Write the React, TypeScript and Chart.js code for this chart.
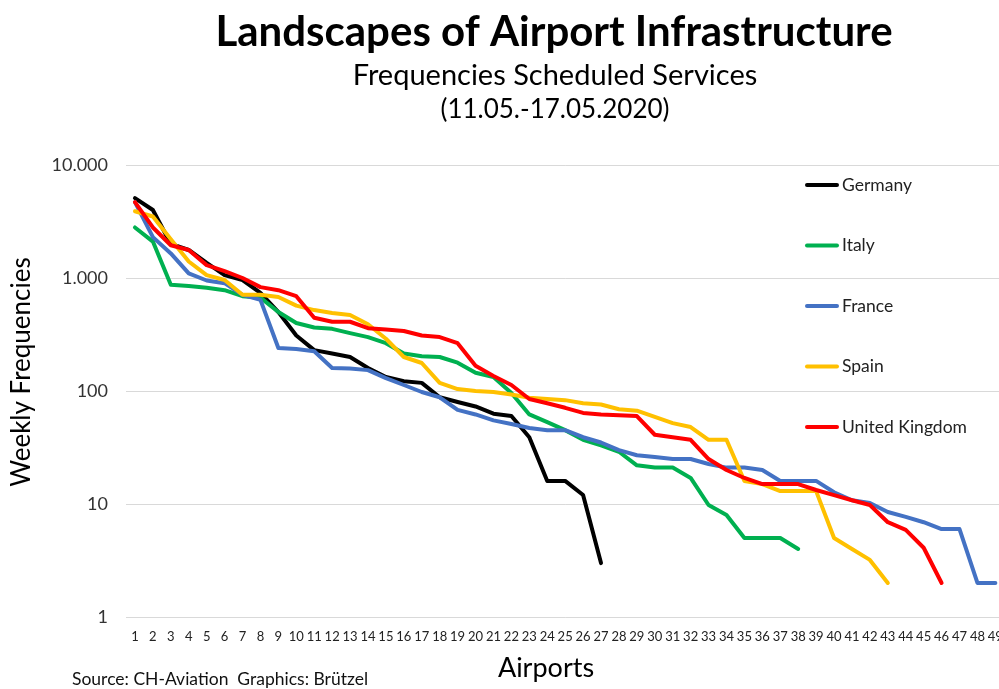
import React, { useEffect, useRef } from "react";
import { Chart, registerables } from "chart.js";

Chart.register(...registerables);

const airports = [
  "1", "2", "3", "4", "5", "6", "7", "8", "9", "10",
  "11", "12", "13", "14", "15", "16", "17", "18", "19", "20",
  "21", "22", "23", "24", "25", "26", "27", "28", "29", "30",
  "31", "32", "33", "34", "35", "36", "37", "38", "39", "40",
  "41", "42", "43", "44", "45", "46", "47", "48", "49",
];

const germany = [5100, 4000, 2000, 1770, 1360, 1060, 960, 740, 500, 310, 230, 215, 200, 160, 133, 122, 118, 88, 80, 73, 63, 60, 39, 16, 16, 12, 3];
const italy = [2800, 2100, 870, 850, 820, 780, 690, 670, 500, 400, 365, 355, 325, 300, 265, 215, 203, 200, 178, 145, 133, 96, 62, 53, 45, 37, 33, 29, 22, 21, 21, 17, 9.8, 8, 5, 5, 5, 4];
const france = [4700, 2300, 1650, 1100, 950, 900, 710, 640, 240, 235, 225, 160, 158, 153, 130, 113, 98, 88, 68, 62, 55, 51, 47, 45, 45, 39, 35, 30, 27, 26, 25, 25, 22.6, 21, 21, 20, 16, 16, 16, 12.7, 10.8, 10.2, 8.5, 7.7, 6.9, 6, 6, 2, 2];
const spain = [3900, 3500, 2200, 1400, 1060, 960, 710, 710, 680, 570, 520, 490, 470, 390, 290, 200, 177, 118, 104, 100, 98, 93, 87, 85, 83, 78, 76, 69, 67, 59, 52, 48, 37, 37, 16, 15, 13, 13, 13, 5, 4, 3.2, 2];
const unitedKingdom = [4700, 2800, 1950, 1770, 1300, 1150, 1000, 830, 780, 690, 445, 410, 410, 360, 350, 340, 310, 300, 265, 167, 136, 113, 85, 78, 71, 64, 62, 61, 60, 41, 39, 37, 25, 20, 17, 15, 15, 15, 13.3, 12, 10.8, 9.8, 6.9, 5.9, 4.1, 2];

const seriesNames = ["Germany", "Italy", "France", "Spain", "United Kingdom"];
const seriesValues = [germany, italy, france, spain, unitedKingdom];
const seriesColors = ["#000000", "#00B050", "#4472C4", "#FFC000", "#FF0000"];

const yTickValues = [1, 10, 100, 1000, 10000];

const titleText = "Landscapes of Airport Infrastructure";
const subtitleText = "Frequencies Scheduled Services";
const dateText = "(11.05.-17.05.2020)";
const yTitleText = "Weekly Frequencies";
const xTitleText = "Airports";
const sourceText = "Source: CH-Aviation  Graphics: Brützel";

const FONT = "Lato, 'Open Sans', 'DejaVu Sans', sans-serif";

const CANVAS_W = 1015;
const CANVAS_H = 689;

function formatThousands(v: number): string {
  return String(v).replace(/\B(?=(\d{3})+(?!\d))/g, ".");
}

const textPlugin = {
  id: "customTexts",
  afterDraw(chart: any) {
    const ctx = chart.ctx as CanvasRenderingContext2D;
    ctx.save();
    ctx.fillStyle = "#000000";
    ctx.textAlign = "center";
    ctx.textBaseline = "middle";

    ctx.font = `bold 42px ${FONT}`;
    ctx.fillText(titleText, 554, 32);
    ctx.font = `29px ${FONT}`;
    ctx.fillText(subtitleText, 555, 76);
    ctx.font = `26px ${FONT}`;
    ctx.fillText(dateText, 555, 110);

    ctx.font = `27px ${FONT}`;
    ctx.fillText(xTitleText, 546, 668);

    ctx.save();
    ctx.translate(22, 372);
    ctx.rotate(-Math.PI / 2);
    ctx.font = `26px ${FONT}`;
    ctx.fillText(yTitleText, 0, 0);
    ctx.restore();

    ctx.textAlign = "left";
    ctx.font = `17.5px ${FONT}`;
    ctx.fillStyle = "#111111";
    ctx.fillText(sourceText, 72, 679);

    // legend
    const ds = chart.data.datasets;
    for (let i = 0; i < ds.length; i++) {
      const y = 185 + i * 60.5;
      ctx.strokeStyle = ds[i].borderColor;
      ctx.lineWidth = 4;
      ctx.lineCap = "round";
      ctx.beginPath();
      ctx.moveTo(807, y);
      ctx.lineTo(837, y);
      ctx.stroke();
      ctx.fillStyle = "#222222";
      ctx.font = `17.5px ${FONT}`;
      ctx.fillText(ds[i].label, 842, y);
    }
    ctx.restore();
  },
};

export default function App() {
  const canvasRef = useRef<HTMLCanvasElement | null>(null);

  useEffect(() => {
    if (!canvasRef.current) return;
    const datasets = seriesNames.map((name, i) => ({
      label: name,
      data: seriesValues[i],
      borderColor: seriesColors[i],
      backgroundColor: seriesColors[i],
      borderWidth: 4,
      pointRadius: 0,
      pointHoverRadius: 0,
      tension: 0,
      fill: false,
      borderJoinStyle: "round" as const,
      borderCapStyle: "round" as const,
      order: seriesNames.length - i,
    }));

    const chart = new Chart(canvasRef.current, {
      type: "line",
      data: { labels: airports, datasets },
      options: {
        responsive: false,
        animation: false,
        devicePixelRatio: 1,
        layout: { padding: { top: 165, right: CANVAS_W - 1005.5, left: 0, bottom: 0 } },
        plugins: {
          legend: { display: false },
          title: { display: false },
          tooltip: { enabled: false },
        },
        scales: {
          x: {
            type: "category",
            offset: true,
            grid: { display: false, drawTicks: false },
            border: { display: false },
            ticks: {
              autoSkip: false,
              maxRotation: 0,
              minRotation: 0,
              padding: 12,
              color: "#222222",
              font: { family: FONT, size: 13 },
            },
            afterFit: (scale: any) => {
              scale.height = 72;
            },
          },
          y: {
            type: "logarithmic",
            min: 1,
            max: 10000,
            grid: { color: "#d9d9d9", lineWidth: 1, drawTicks: false },
            border: { display: false },
            afterBuildTicks: (axis: any) => {
              axis.ticks = yTickValues.map((v) => ({ value: v }));
            },
            ticks: {
              padding: 18,
              color: "#333333",
              font: { family: FONT, size: 18 },
              callback: (v: any) => formatThousands(Number(v)),
            },
            afterFit: (scale: any) => {
              scale.width = 126;
            },
          },
        },
      },
      plugins: [textPlugin],
    });

    return () => {
      chart.destroy();
    };
  }, []);

  return (
    <div
      style={{
        position: "absolute",
        left: 0,
        top: 0,
        width: 999,
        height: 689,
        overflow: "hidden",
        background: "#ffffff",
      }}
    >
      <canvas
        ref={canvasRef}
        width={CANVAS_W}
        height={CANVAS_H}
        style={{ width: CANVAS_W, height: CANVAS_H, display: "block" }}
      />
    </div>
  );
}
